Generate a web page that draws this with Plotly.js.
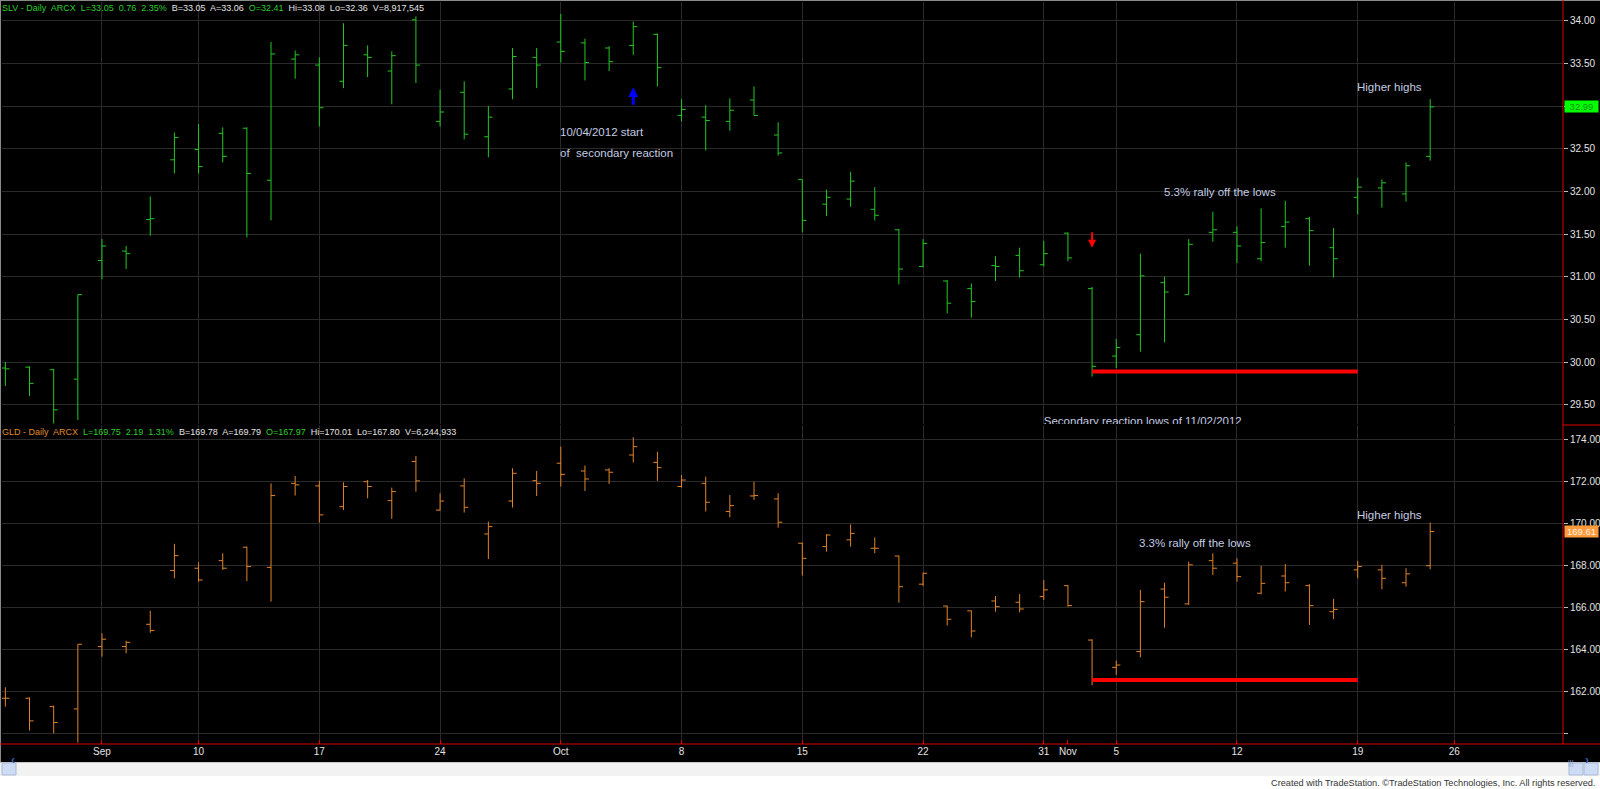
<!DOCTYPE html>
<html>
<head>
<meta charset="utf-8">
<script src="https://cdn.plot.ly/plotly-3.0.1.min.js"></script>
<style>
  html, body { margin: 0; padding: 0; background: #000; }
  #chart { width: 1600px; height: 789px; }
</style>
</head>
<body>
<div id="chart"></div>
<script>
// ---------- DATA ----------
const dates = [
  '2012-08-28','2012-08-29','2012-08-30','2012-08-31',
  '2012-09-04','2012-09-05','2012-09-06','2012-09-07',
  '2012-09-10','2012-09-11','2012-09-12','2012-09-13','2012-09-14',
  '2012-09-17','2012-09-18','2012-09-19','2012-09-20','2012-09-21',
  '2012-09-24','2012-09-25','2012-09-26','2012-09-27','2012-09-28',
  '2012-10-01','2012-10-02','2012-10-03','2012-10-04','2012-10-05',
  '2012-10-08','2012-10-09','2012-10-10','2012-10-11','2012-10-12',
  '2012-10-15','2012-10-16','2012-10-17','2012-10-18','2012-10-19',
  '2012-10-22','2012-10-23','2012-10-24','2012-10-25','2012-10-26',
  '2012-10-31','2012-11-01','2012-11-02',
  '2012-11-05','2012-11-06','2012-11-07','2012-11-08','2012-11-09',
  '2012-11-12','2012-11-13','2012-11-14','2012-11-15','2012-11-16',
  '2012-11-19','2012-11-20','2012-11-21','2012-11-23'
];
const futureDates = ['2012-11-26','2012-11-27','2012-11-28','2012-11-29','2012-11-30'];

const slvOpen  = [29.93,29.94,29.91,29.80, 31.19,31.30,31.67,32.37, 32.49,32.68,32.74,32.13,33.55, 33.48,33.29,33.60,33.41,34.01, 32.82,33.16,32.64,33.20,33.57, 33.75,33.74,33.68,33.71,33.84, 32.89,32.87,32.82,33.07,32.66, 32.14,31.85,31.91,31.79,31.55, 31.12,30.95,30.86,31.13,31.25, 31.14,31.51,30.86, 30.07,30.32,30.93,30.79,31.52, 31.52,31.21,31.59,31.68,31.34, 31.93,32.04,31.97,32.41];
const slvHigh  = [30.00,29.95,29.92,30.79, 31.44,31.36,31.94,32.69, 32.79,32.75,32.75,33.75,33.65, 33.57,33.97,33.71,33.64,34.05, 33.19,33.29,33.00,33.68,33.68, 34.08,33.79,33.70,33.99,33.85, 33.08,33.01,33.09,33.23,32.81, 32.14,32.02,32.23,32.05,31.56, 31.44,30.96,30.92,31.24,31.34, 31.42,31.52,30.88, 30.27,31.27,31.00,31.44,31.76, 31.59,31.80,31.89,31.70,31.57, 32.16,32.14,32.34,33.08];
const slvLow   = [29.72,29.60,29.28,29.32, 30.97,31.09,31.48,32.21, 32.21,32.34,31.46,31.66,33.32, 32.76,33.21,33.34,33.02,33.27, 32.76,32.61,32.40,33.08,33.21, 33.51,33.30,33.41,33.60,33.23, 32.82,32.48,32.71,32.89,32.42, 31.52,31.71,31.82,31.66,30.91, 31.11,30.57,30.52,30.95,30.99, 31.12,31.18,29.83, 29.93,30.12,30.23,30.79,31.41, 31.16,31.18,31.34,31.13,30.99, 31.73,31.81,31.88,32.36];
const slvClose = [29.92,29.75,29.44,30.79, 31.36,31.27,31.68,32.63, 32.29,32.41,32.21,33.61,33.60, 32.98,33.71,33.57,33.59,33.48, 32.93,32.67,32.87,33.58,33.48, 33.64,33.51,33.52,33.93,33.45, 32.96,32.83,32.95,32.89,32.45, 31.66,31.93,32.12,31.72,31.09, 31.39,30.69,30.71,31.12,31.07, 31.27,31.22,29.95, 30.17,31.01,30.82,31.38,31.55, 31.36,31.40,31.64,31.54,31.21, 32.05,32.10,32.30,32.99];

const gldOpen  = [161.67,161.67,161.27,161.16, 164.13,164.13,165.19,167.75, 167.86,168.22,168.86,167.90,171.90, 171.78,170.79,171.98,171.08,172.94, 170.63,171.78,169.49,171.06,172.03, 172.86,172.49,172.54,173.25,172.90, 171.75,171.90,170.56,171.30,171.16, 169.05,168.89,169.21,168.81,168.44, 167.10,166.06,165.83,166.30,166.24, 166.51,167.03,164.44, 163.14,163.89,166.87,166.16,168.22, 168.10,166.67,167.49,167.03,165.79, 167.78,167.78,167.17,167.98];
const gldHigh  = [162.19,161.71,161.32,164.24, 164.76,164.41,165.83,169.02, 168.14,168.57,168.89,171.90,172.25, 172.02,171.95,172.06,171.70,173.21, 171.43,172.14,170.08,172.62,172.49, 173.65,172.75,172.62,174.10,173.41, 172.30,172.22,171.35,171.98,171.43, 169.08,169.48,169.95,169.33,168.46, 167.65,166.08,165.84,166.54,166.63, 167.30,167.06,164.48, 163.46,166.83,167.17,168.17,168.57, 168.33,167.97,168.06,167.10,166.40, 168.21,168.02,167.86,170.03];
const gldLow   = [161.27,160.13,160.00,159.56, 163.65,163.81,164.79,167.38, 167.22,167.78,167.25,166.27,171.32, 170.03,170.63,171.19,170.21,171.51, 170.60,170.51,168.30,170.75,171.30, 171.75,171.54,171.87,172.90,172.02, 171.70,170.56,170.29,171.11,169.79, 167.51,168.65,168.89,168.57,166.22, 167.02,165.13,164.57,165.79,165.76, 166.35,166.03,162.29, 162.78,163.62,165.03,166.11,167.54, 167.22,166.62,166.75,165.16,165.44, 167.38,166.86,166.98,167.81];
const gldClose = [161.67,160.59,160.51,164.24, 164.48,164.33,164.89,168.46, 167.30,167.86,167.94,171.32,171.83, 170.40,171.75,171.75,171.51,172.02, 171.06,170.76,169.84,172.38,171.90, 172.33,172.11,172.43,173.65,172.65, 172.06,171.00,170.84,171.32,170.05, 168.33,169.44,169.52,168.81,166.98, 167.62,165.43,164.87,166.03,165.92, 166.83,166.08,162.57, 163.25,166.27,166.48,168.02,167.86, 167.46,167.14,167.17,166.08,165.90, 167.94,167.38,167.59,169.61];

const slvTicks = [29.5,30,30.5,31,31.5,32,32.5,33,33.5,34];
const gldTicks = [160,162,164,166,168,170,172,174];
const gldTickLabels = ['','162.00','164.00','166.00','168.00','170.00','172.00','174.00'];

const tickDates  = ['2012-09-04','2012-09-10','2012-09-17','2012-09-24','2012-10-01','2012-10-08','2012-10-15','2012-10-22','2012-10-31','2012-11-01','2012-11-05','2012-11-12','2012-11-19','2012-11-26'];
const tickLabels = ['Sep','10','17','24','Oct','8','15','22','31','Nov','5','12','19','26'];
const gridDates  = ['2012-09-04','2012-09-10','2012-09-17','2012-09-24','2012-10-01','2012-10-08','2012-10-15','2012-10-22','2012-10-31','2012-11-05','2012-11-12','2012-11-19','2012-11-26'];

const slvLowLine = 29.89;
const gldLowLine = 162.54;
const lowStart = '2012-11-02';
const lowEnd = '2012-11-19';

// ---------- STYLE ----------
const W = 1600, H = 789;
const M = {l: 2, r: 37, t: 2, b: 45};
const PW = W - M.l - M.r, PH = H - M.t - M.b;
const px = x => (x - M.l) / PW;
const py = y => (H - M.b - y) / PH;

const FONT = 'Liberation Sans, Arial, sans-serif';
const SLV_C = '#22c822';
const GLD_C = '#e08428';
const TXT = '#c4cce2';
const GRID = '#2a2a2a';
const RED = '#e00000';

const slv = {
  type: 'ohlc', x: dates, open: slvOpen, high: slvHigh, low: slvLow, close: slvClose,
  xaxis: 'x', yaxis: 'y', tickwidth: 0.17, hoverinfo: 'skip', showlegend: false,
  increasing: {line: {color: SLV_C, width: 1}},
  decreasing: {line: {color: SLV_C, width: 1}}
};
const gld = {
  type: 'ohlc', x: dates, open: gldOpen, high: gldHigh, low: gldLow, close: gldClose,
  xaxis: 'x', yaxis: 'y2', tickwidth: 0.17, hoverinfo: 'skip', showlegend: false,
  increasing: {line: {color: GLD_C, width: 1}},
  decreasing: {line: {color: GLD_C, width: 1}}
};
const clipped = {
  type: 'scatter', mode: 'text', x: ['2012-10-31'], y: [29.30],
  text: ['Secondary reaction lows of 11/02/2012'], textposition: 'middle right',
  textfont: {family: FONT, size: 11.5, color: TXT}, cliponaxis: true,
  xaxis: 'x', yaxis: 'y', hoverinfo: 'skip', showlegend: false
};

const allCats = dates.concat(futureDates);

const W_ = '#e4e4e4', G_ = '#2ccc2c', O_ = '#e08a2c';
const sp = '&nbsp; ';
const slvHeader = `<span style="color:${G_}">SLV - Daily${sp}ARCX${sp}L=33.05${sp}0.76${sp}2.35%</span>${sp}<span style="color:${W_}">B=33.05${sp}A=33.06</span>${sp}<span style="color:${G_}">O=32.41</span>${sp}<span style="color:${W_}">Hi=33.08${sp}Lo=32.36${sp}V=8,917,545</span>`;
const gldHeader = `<span style="color:${O_}">GLD - Daily${sp}ARCX</span>${sp}<span style="color:${G_}">L=169.75${sp}2.19${sp}1.31%</span>${sp}<span style="color:${W_}">B=169.78${sp}A=169.79</span>${sp}<span style="color:${G_}">O=167.97</span>${sp}<span style="color:${W_}">Hi=170.01${sp}Lo=167.80${sp}V=6,244,933</span>`;

function note(x, y, yref, text) {
  return {x: x, y: y, xref: 'x', yref: yref, text: text, showarrow: false,
    xanchor: 'left', yanchor: 'middle', xshift: -3,
    font: {family: FONT, size: 11.5, color: TXT}};
}

const annotations = [
  {x: 0, y: py(8), xref: 'paper', yref: 'paper', text: slvHeader, showarrow: false,
   xanchor: 'left', yanchor: 'middle', xshift: -2, font: {family: FONT, size: 9}},
  {x: 0, y: py(432), xref: 'paper', yref: 'paper', text: gldHeader, showarrow: false,
   xanchor: 'left', yanchor: 'middle', xshift: -2, font: {family: FONT, size: 9}},
  note('2012-10-01', 32.695, 'y', '10/04/2012 start'),
  note('2012-10-01', 32.448, 'y', 'of&nbsp; secondary reaction'),
  note('2012-11-07', 31.99, 'y', '5.3% rally off the lows'),
  note('2012-11-19', 33.22, 'y', 'Higher highs'),
  note('2012-11-06', 169.06, 'y2', '3.3% rally off the lows'),
  note('2012-11-19', 170.40, 'y2', 'Higher highs'),
  // arrows
  {x: '2012-10-04', y: 33.22, xref: 'x', yref: 'y', text: '', showarrow: true,
   ax: 0, ay: 19, arrowcolor: '#0000ff', arrowwidth: 3, arrowhead: 2, arrowsize: 0.65},
  {x: '2012-11-02', y: 31.34, xref: 'x', yref: 'y', text: '', showarrow: true,
   ax: 0, ay: -17, arrowcolor: '#ff0000', arrowwidth: 2, arrowhead: 2, arrowsize: 0.8},
  // last price boxes
  {x: 1, y: slvClose[slvClose.length - 1], xref: 'paper', yref: 'y', text: String(slvClose[slvClose.length - 1].toFixed(2)),
   showarrow: false, xanchor: 'left', yanchor: 'middle', xshift: 1, bgcolor: '#00ff00',
   width: 33, height: 11, borderpad: 0, font: {family: FONT, size: 9.5, color: '#1d8f1d'}},
  {x: 1, y: gldClose[gldClose.length - 1], xref: 'paper', yref: 'y2', text: String(gldClose[gldClose.length - 1].toFixed(2)),
   showarrow: false, xanchor: 'left', yanchor: 'middle', xshift: 1, bgcolor: '#ff9a3c',
   width: 33, height: 11, borderpad: 0, font: {family: FONT, size: 9.5, color: '#fff1e0'}},
  // footer
  {x: px(1597), y: py(783), xref: 'paper', yref: 'paper', text: 'Created with TradeStation. ©TradeStation Technologies, Inc. All rights reserved.',
   showarrow: false, xanchor: 'right', yanchor: 'middle', font: {family: FONT, size: 9.2, color: '#333333'}},
  // scrollbar button glyphs
  {x: px(9), y: py(769), xref: 'paper', yref: 'paper', text: '<b>‹</b>', showarrow: false,
   font: {family: FONT, size: 12, color: '#3a5fb0'}},
  {x: px(1591), y: py(769), xref: 'paper', yref: 'paper', text: '<b>›</b>', showarrow: false,
   font: {family: FONT, size: 12, color: '#3a5fb0'}},
  {x: px(1576), y: py(769), xref: 'paper', yref: 'paper', text: '|||', showarrow: false,
   font: {family: FONT, size: 7, color: '#8aa6d8'}}
];

const shapes = [
  // scrollbar & footer background
  {type: 'rect', xref: 'paper', yref: 'paper', x0: px(0), x1: px(1600), y0: py(762), y1: py(776), fillcolor: '#f2f2f2', line: {width: 0}},
  {type: 'line', xref: 'paper', yref: 'paper', x0: px(0), x1: px(1600), y0: py(762.5), y1: py(762.5), line: {color: '#c8c8c8', width: 1}},
  {type: 'rect', xref: 'paper', yref: 'paper', x0: px(0), x1: px(1600), y0: py(776), y1: py(789), fillcolor: '#ffffff', line: {width: 0}},
  {type: 'rect', xref: 'paper', yref: 'paper', x0: px(2), x1: px(16), y0: py(763), y1: py(775), fillcolor: '#cddcf4', line: {color: '#aabbd8', width: 1}},
  {type: 'rect', xref: 'paper', yref: 'paper', x0: px(1569), x1: px(1583), y0: py(763), y1: py(775), fillcolor: '#cddcf4', line: {color: '#aabbd8', width: 1}},
  {type: 'rect', xref: 'paper', yref: 'paper', x0: px(1584), x1: px(1598), y0: py(763), y1: py(775), fillcolor: '#cddcf4', line: {color: '#aabbd8', width: 1}},
  // borders
  {type: 'line', xref: 'paper', yref: 'paper', x0: px(0), x1: px(1600), y0: py(0.5), y1: py(0.5), line: {color: '#8a8a8a', width: 1}},
  {type: 'line', xref: 'paper', yref: 'paper', x0: px(0.5), x1: px(0.5), y0: py(0), y1: py(762), line: {color: '#8a8a8a', width: 1}},
  // red axis lines
  {type: 'line', xref: 'paper', yref: 'paper', x0: px(0), x1: px(1600), y0: 0, y1: 0, line: {color: RED, width: 1}},
  {type: 'line', xref: 'paper', yref: 'paper', x0: 1, x1: 1, y0: 0, y1: py(0), line: {color: RED, width: 1}},
  {type: 'line', xref: 'paper', yref: 'paper', x0: 1, x1: px(1600), y0: py(425), y1: py(425), line: {color: RED, width: 1}},
  // secondary reaction low lines
  {type: 'line', xref: 'x', yref: 'y', x0: lowStart, x1: lowEnd, y0: slvLowLine, y1: slvLowLine, line: {color: '#ff0000', width: 4}},
  {type: 'line', xref: 'x', yref: 'y2', x0: lowStart, x1: lowEnd, y0: gldLowLine, y1: gldLowLine, line: {color: '#ff0000', width: 4}}
];

const layout = {
  width: W, height: H,
  margin: {l: M.l, r: M.r, t: M.t, b: M.b, pad: 0},
  paper_bgcolor: '#000000', plot_bgcolor: '#000000',
  font: {family: FONT, size: 10, color: '#e4e4e4'},
  showlegend: false, hovermode: false,
  xaxis: {
    type: 'category', categoryorder: 'array', categoryarray: allCats,
    range: [-0.14, 64.5], anchor: 'y2', fixedrange: true,
    rangeslider: {visible: false},
    tickmode: 'array', tickvals: tickDates, ticktext: tickLabels,
    ticks: 'inside', ticklen: 4, tickcolor: RED, tickwidth: 1,
    tickfont: {family: FONT, size: 10, color: '#e4e4e4'},
    showgrid: false, showline: false, zeroline: false,
    minor: {tickmode: 'array', tickvals: gridDates, showgrid: true, gridcolor: GRID, gridwidth: 1, ticks: ''}
  },
  yaxis: {
    domain: [py(424), 1], range: [29.274, 34.219], side: 'right', anchor: 'x',
    tickmode: 'array', tickvals: slvTicks, ticktext: slvTicks.map(v => v.toFixed(2)),
    ticks: 'outside', ticklen: 4, tickcolor: '#bdbdbd',
    tickfont: {family: FONT, size: 10, color: '#e4e4e4'},
    showgrid: true, gridcolor: GRID, zeroline: false, showline: false, fixedrange: true
  },
  yaxis2: {
    domain: [0, py(425)], range: [159.49, 174.68], side: 'right', anchor: 'x',
    tickmode: 'array', tickvals: gldTicks, ticktext: gldTickLabels,
    ticks: 'outside', ticklen: 4, tickcolor: '#bdbdbd',
    tickfont: {family: FONT, size: 10, color: '#e4e4e4'},
    showgrid: true, gridcolor: GRID, zeroline: false, showline: false, fixedrange: true
  },
  annotations: annotations,
  shapes: shapes
};

Plotly.newPlot('chart', [slv, gld, clipped], layout, {displayModeBar: false, staticPlot: true});
</script>
</body>
</html>
